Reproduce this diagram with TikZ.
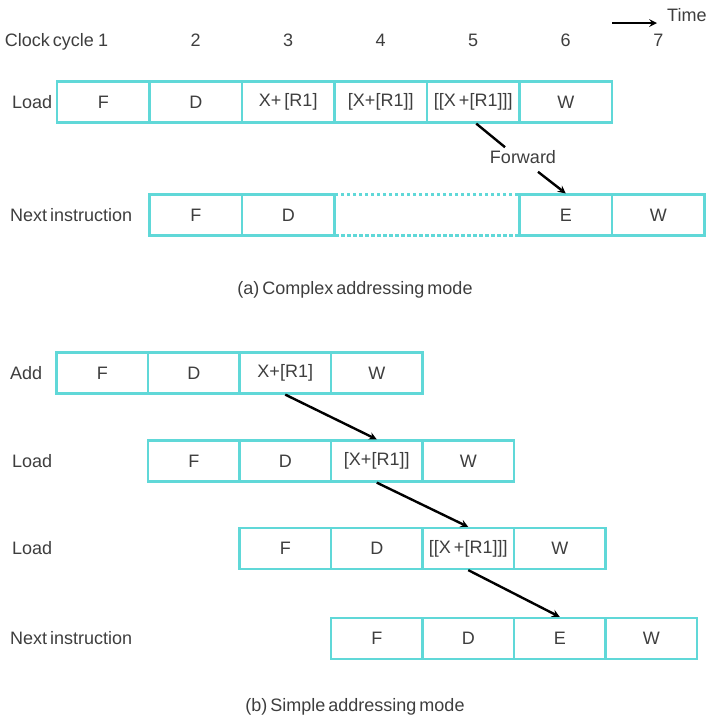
\documentclass[tikz,border=0pt]{standalone}
\usepackage{fontspec}
\setmainfont[WordSpace=0.6]{Liberation Sans}
\definecolor{cellcyan}{RGB}{96,216,216}
\definecolor{textgray}{RGB}{62,62,62}

\begin{document}
\begin{tikzpicture}[x=1pt, y=-1pt, >=stealth, line width=2.4pt, font=\fontsize{18}{21}\selectfont, text=textgray]
\tikzset{
  pipecell/.style={draw=cellcyan, line width=2.2pt, minimum height=41pt, inner sep=0pt},
  pipecella/.style={pipecell, minimum width=92.5pt},
  pipecellb/.style={pipecell, minimum width=91.5pt},
  pipegap/.style={draw=cellcyan, dash pattern=on 3.5pt off 2.5pt, line width=2.2pt, minimum height=41pt, minimum width=185pt, inner sep=0pt},
  rowlbl/.style={anchor=west, inner sep=0pt},
  caption/.style={inner sep=0pt}
}
\useasboundingbox (0,0) rectangle (706,721);

% clock cycles
\foreach \n in {1,...,7}
  \node[inner sep=0pt] (c\n) at ({57+92.5*(\n-0.5)},40) {\n};
\node[anchor=base east, inner sep=0pt] (cc) at ([xshift=-2pt]c1.base west) {Clock cycle};
\coordinate (t0) at (612,23);
\coordinate (t1) at (657,23);
\node[anchor=west, inner sep=0pt] (time) at (666,15) {Time};
\draw[->] (t0) -- (t1);

% (a) complex addressing mode
\node[rowlbl] (lbla) at (11,102) {Load};
\foreach \t [count=\i] in {F, D, {X+ [R1]}, {[X+[R1]]}, {[[X +[R1]]]}, W}
  \node[pipecella] (la\i) at ({57+92.5*(\i-0.5)},102) {\t};

\node[rowlbl] (lblna) at (9,215) {Next instruction};
\node[pipegap] (nagap) at (427.5,215) {};
\foreach \c/\t [count=\i] in {2/F, 3/D, 6/E, 7/W}
  \node[pipecella] (na\i) at ({57+92.5*(\c-0.5)},215) {\t};

\node[inner sep=2pt] (fwd) at (523,157) {Forward};
\draw ([xshift=3pt]la5.south) -- ([xshift=-18pt]fwd.north);
\draw[->] ([xshift=15pt,yshift=-5pt]fwd.south) -- (na3.north);

\node[caption] (capa) at (355,290) {(a) Complex addressing mode};

% (b) simple addressing mode
\node[rowlbl] (lbladd) at (9,373) {Add};
\foreach \t [count=\i] in {F, D, {X+[R1]}, W}
  \node[pipecellb] (ad\i) at ({56.5+91.5*(\i-0.5)},373) {\t};

\node[rowlbl] (lbllb) at (11,461) {Load};
\foreach \t [count=\i] in {F, D, {[X+[R1]]}, W}
  \node[pipecellb] (lb\i) at ({56.5+91.5*(\i+0.5)},461) {\t};

\node[rowlbl] (lbllc) at (11,548.5) {Load};
\foreach \t [count=\i] in {F, D, {[[X +[R1]]]}, W}
  \node[pipecellb] (lc\i) at ({56.5+91.5*(\i+1.5)},548.5) {\t};

\node[rowlbl] (lblnb) at (9,638.5) {Next instruction};
\foreach \t [count=\i] in {F, D, E, W}
  \node[pipecellb] (nb\i) at ({56.5+91.5*(\i+2.5)},638.5) {\t};

\draw[->] (ad3.south) -- (lb3.north);
\draw[->] (lb3.south) -- (lc3.north);
\draw[->] (lc3.south) -- (nb3.north);

\node[caption] (capb) at (355,707) {(b) Simple addressing mode};
\end{tikzpicture}
\end{document}
